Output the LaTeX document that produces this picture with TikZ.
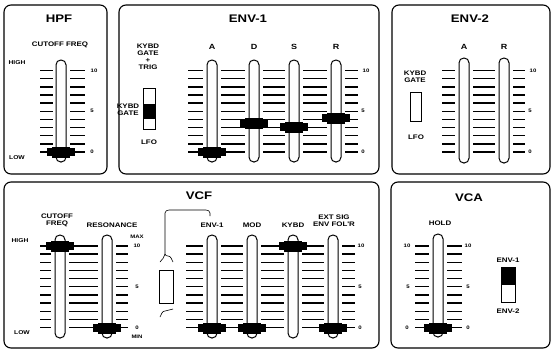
\documentclass[tikz,border=0pt]{standalone}
\usepackage{fontspec}
\setmainfont{Liberation Sans}
\newfontfamily\pfont[FakeStretch=1.2]{Liberation Sans}
\newcommand\tks[3]{\foreach \i in {0,...,10}{\pgfmathsetmacro\yy{#3+\i*8.15}\draw[tick] (#1,\yy) -- (#2,\yy);}}
\newcommand\trk[3]{\draw[track] ({#1-5},#2) rectangle ({#1+5},#3);}
\newcommand\knb[2]{\fill ({#1-14},{#2-4}) rectangle ({#1+14},{#2+4});\fill ({#1-9},{#2-5.5}) rectangle ({#1+9},{#2+5.5});}
\begin{document}
\begin{tikzpicture}[x=1pt,y=-1pt,
  panel/.style={draw,line width=1.1pt,rounded corners=7pt},
  track/.style={draw,line width=1pt,fill=white,rounded corners=4.8pt},
  tick/.style={line width=1.4pt},
  ttl/.style={font=\pfont\bfseries\fontsize{11}{11}\selectfont,inner sep=0},
  lab/.style={font=\pfont\bfseries\fontsize{6.6}{7}\selectfont,inner sep=0,align=center},
  sml/.style={font=\pfont\bfseries\fontsize{5.6}{5.6}\selectfont,inner sep=0},
  num/.style={font=\pfont\bfseries\fontsize{5}{5}\selectfont,inner sep=0}]
\useasboundingbox (0,0) rectangle (552,351);
% panels
\draw[panel] (4,5) rectangle (107,174);
\draw[panel] (119,5) rectangle (379,174);
\draw[panel] (392,5) rectangle (550,174);
\draw[panel] (4,182) rectangle (379,348);
\draw[panel] (391,182) rectangle (550,348);
% ---------- HPF
\node[ttl] (hpf) at (59,19) {HPF};
\node[lab] (hpfcut) at (60,45) {CUTOFF FREQ};
\node[sml] (hpfhi) at (17,63) {HIGH};
\node[sml] (hpflo) at (17,158) {LOW};
\tks{40}{53}{70.5}\tks{70}{85}{70.5}
\trk{61}{60}{162}
\knb{61}{152}
\node[num] (h10) at (94,70.5) {10};
\node[num] (h5) at (92,111.3) {5};
\node[num] (h0) at (92,152) {0};
% ---------- ENV-1
\node[ttl] (env1) at (248,19) {ENV-1};
\foreach \x/\t in {212/A,254/D,294/S,336/R}{\node[lab,font=\pfont\bfseries\fontsize{7.5}{7.5}\selectfont] (e1\t) at (\x,47) {\t};}
\node[lab] (e1kg) at (148,57) {KYBD\\GATE\\+\\TRIG};
\draw[line width=1pt] (143,88) rectangle (155,129);
\fill (143,104) rectangle (155,119);
\node[lab] (e1kg2) at (128,110) {KYBD\\GATE};
\node[lab] (e1lfo) at (149,142) {LFO};
\tks{188}{203}{70.5}\tks{221}{245}{70.5}\tks{263}{285}{70.5}\tks{303}{327}{70.5}\tks{345}{358}{70.5}
\trk{212}{60}{162}\trk{254}{60}{162}\trk{294}{60}{162}\trk{336}{60}{162}
\knb{212}{152}\knb{254}{123}\knb{294}{127}\knb{336}{118}
\node[num] (e10) at (366,70.5) {10};
\node[num] (e5) at (363,111.3) {5};
\node[num] (e0) at (363,152) {0};
% ---------- ENV-2
\node[ttl] (env2) at (470,19) {ENV-2};
\node[lab,font=\pfont\bfseries\fontsize{7.5}{7.5}\selectfont] (e2A) at (464,47) {A};
\node[lab,font=\pfont\bfseries\fontsize{7.5}{7.5}\selectfont] (e2R) at (504,47) {R};
\node[lab] (e2kg) at (415,77) {KYBD\\GATE};
\draw[line width=1pt] (410,92) rectangle (421,121);
\node[lab] (e2lfo) at (416,137) {LFO};
\tks{442}{455}{70.5}\tks{473}{495}{70.5}\tks{513}{525}{70.5}
\trk{464}{58}{163}\trk{504}{58}{163}
\node[num] (f10) at (533,70.5) {10};
\node[num] (f5) at (530,111.3) {5};
\node[num] (f0) at (530,152) {0};
% ---------- VCF
\node[ttl] (vcf) at (199,196) {VCF};
\node[lab] (vcut) at (57,220) {CUTOFF\\FREQ};
\node[lab] (vres) at (112,225) {RESONANCE};
\node[sml] (vhi) at (20,241) {HIGH};
\node[sml] (vlo) at (22,333) {LOW};
\node[lab] (venv) at (212,225) {ENV-1};
\node[lab] (vmod) at (252,225) {MOD};
\node[lab] (vkb) at (293,225) {KYBD};
\node[lab] (vext) at (334,221) {EXT SIG\\ENV FOL'R};
\tks{40}{51}{246}\tks{69}{98}{246}\tks{116}{128}{246}
\tks{186}{203}{246}\tks{221}{243}{246}\tks{261}{284}{246}\tks{302}{324}{246}\tks{342}{355}{246}
\trk{60}{235}{338}\trk{107}{235}{338}
\trk{212}{235}{338}\trk{252}{235}{338}\trk{293}{235}{338}\trk{333}{235}{338}
\knb{60}{246}\knb{107}{328}\knb{212}{328}\knb{252}{328}\knb{293}{246}\knb{333}{328}
\node[num] (rmax) at (137,237) {MAX};
\node[num] (r10) at (137,246) {10};
\node[num] (r5) at (137,287) {5};
\node[num] (r0) at (137,328) {0};
\node[num] (rmin) at (137,337) {MIN};
\node[num] (v10) at (361,246) {10};
\node[num] (v5) at (360,287) {5};
\node[num] (v0) at (360,328) {0};
\draw[line width=1pt] (159,270) rectangle (173,303);
\draw[line width=0.6pt] (210,216) -- (210,213) to[out=90,in=0] (206,210) -- (169,210) to[out=180,in=90] (165,213) -- (165,254) to[out=-90,in=180] (168,256) to[out=0,in=120] (173,262);
\draw[line width=0.6pt] (165,254) to[out=-90,in=60] (160,262);
\draw[line width=0.6pt] (160,317) to[out=60,in=180] (165,311) -- (173,309);
% ---------- VCA
\node[ttl] (vca) at (469,198) {VCA};
\node[lab] (vhold) at (440,223) {HOLD};
\tks{415}{429}{246}\tks{447}{462}{246}
\trk{438}{234}{337}
\knb{438}{328}
\node[num] (a10) at (407,246) {10};
\node[num] (a5) at (408,287) {5};
\node[num] (a0) at (407,328) {0};
\node[num] (b10) at (468,246) {10};
\node[num] (b5) at (468,287) {5};
\node[num] (b0) at (468,328) {0};
\node[lab] (ve1) at (508,260) {ENV-1};
\node[lab] (ve2) at (508,311) {ENV-2};
\draw[line width=1pt] (501,267) rectangle (515,302);
\fill (501,267) rectangle (515,285);
\end{tikzpicture}
\end{document}
